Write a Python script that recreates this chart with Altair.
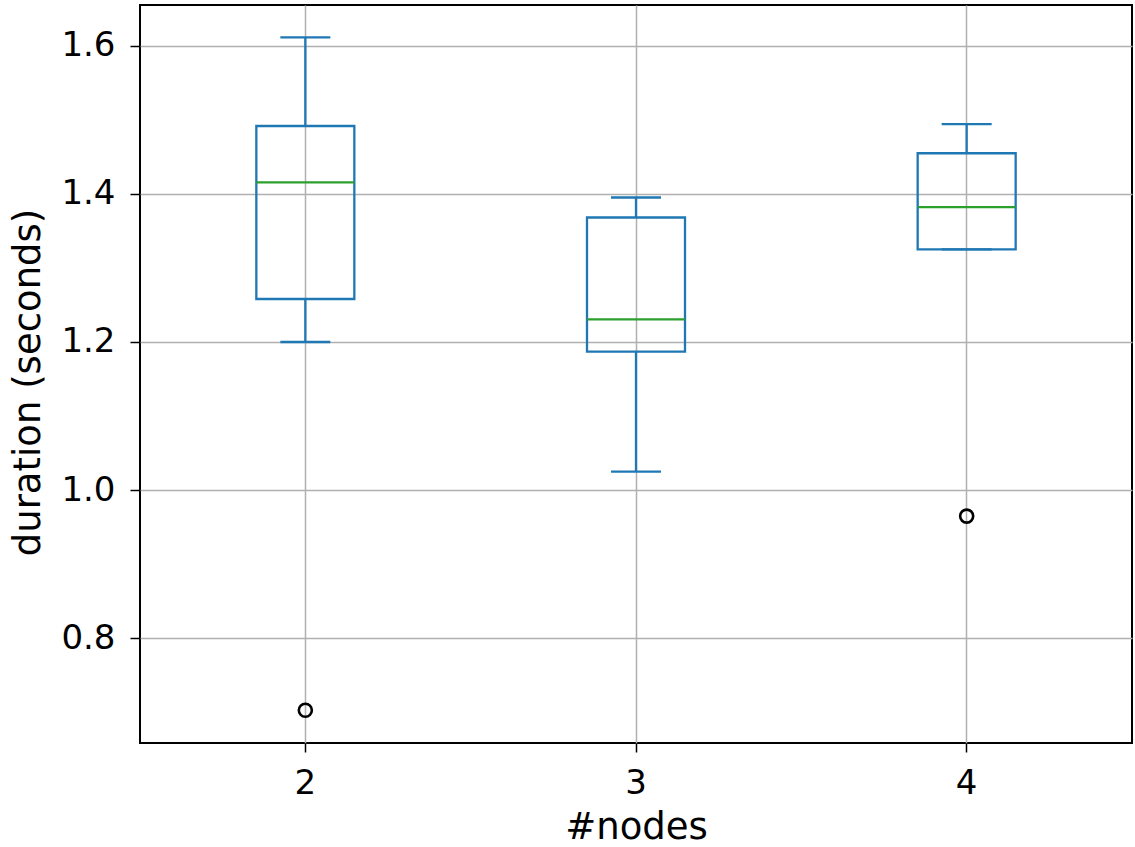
import altair as alt
import pandas as pd

nodes = ["2", "3", "4"]
whisker_low = [1.200, 1.025, 1.325]
q1 = [1.258, 1.187, 1.325]
median = [1.4155, 1.2306, 1.382]
q3 = [1.4915, 1.368, 1.4547]
whisker_high = [1.611, 1.395, 1.494]
outlier_nodes = ["2", "4"]
outlier_values = [0.703, 0.965]

y_ticks = [0.8, 1.0, 1.2, 1.4, 1.6]
y_domain = [0.6588, 1.6548]

box_df = pd.DataFrame({
    "node": nodes, "lo": whisker_low, "q1": q1, "med": median,
    "q3": q3, "hi": whisker_high,
})
out_df = pd.DataFrame({"node": outlier_nodes, "val": outlier_values})

BLUE = "#1f77b4"
GREEN = "#2ca02c"
FONT = "DejaVu Sans"
LW = 2.3

x_axis = alt.Axis(
    title="#nodes", bandPosition=0.5, grid=True, labelAngle=0,
    labelBaseline="alphabetic", labelPadding=41, tickSize=9,
    titleY=95, titleBaseline="alphabetic",
)
y_axis = alt.Axis(
    title="duration (seconds)", values=y_ticks, format=".1f", tickSize=10,
    labelPadding=15, titleX=-112, titleY=377, titleBaseline="middle",
    titleAngle=-90, titleAlign="center",
)
x_enc = alt.X("node:N", scale=alt.Scale(type="band", domain=nodes, paddingInner=0, paddingOuter=0), axis=x_axis, sort=nodes)
y_scale = alt.Scale(domain=y_domain, nice=False, zero=False)

base = alt.Chart(box_df)

boxes = base.mark_bar(size=98, fillOpacity=0, stroke=BLUE, strokeWidth=LW).encode(
    x=x_enc,
    y=alt.Y("q1:Q", scale=y_scale, axis=y_axis),
    y2="q3:Q",
)
whisk_low = base.mark_rule(color=BLUE, strokeWidth=LW).encode(
    x=x_enc, y=alt.Y("lo:Q", scale=y_scale, axis=y_axis), y2="q1:Q")
whisk_high = base.mark_rule(color=BLUE, strokeWidth=LW).encode(
    x=x_enc, y=alt.Y("q3:Q", scale=y_scale, axis=y_axis), y2="hi:Q")
cap_low = base.mark_tick(size=50, thickness=LW, color=BLUE, opacity=1).encode(
    x=x_enc, y=alt.Y("lo:Q", scale=y_scale, axis=y_axis))
cap_high = base.mark_tick(size=50, thickness=LW, color=BLUE, opacity=1).encode(
    x=x_enc, y=alt.Y("hi:Q", scale=y_scale, axis=y_axis))
med = base.mark_tick(size=98, thickness=LW, color=GREEN, opacity=1).encode(
    x=x_enc, y=alt.Y("med:Q", scale=y_scale, axis=y_axis))
outliers = alt.Chart(out_df).mark_point(
    shape="circle", size=170, filled=False, color="black", strokeWidth=2.6, opacity=1
).encode(x=x_enc, y=alt.Y("val:Q", scale=y_scale, axis=y_axis))

chart = alt.layer(whisk_low, whisk_high, cap_low, cap_high, boxes, med, outliers).properties(
    width=992, height=738,
    autosize=alt.AutoSizeParams(type="none"),
    padding={"left": 140, "top": 5, "right": 3, "bottom": 104},
    background="white",
).configure_view(
    stroke="black", strokeWidth=2
).configure_axis(
    labelFont=FONT, titleFont=FONT, labelFontSize=34, titleFontSize=37,
    titleFontWeight="normal", labelColor="black", titleColor="black",
    tickColor="black", tickWidth=1.5, domain=False,
    gridColor="#b0b0b0", gridWidth=1.5,
)

chart.save("out.html", embed_options={"renderer": "svg", "actions": False})
